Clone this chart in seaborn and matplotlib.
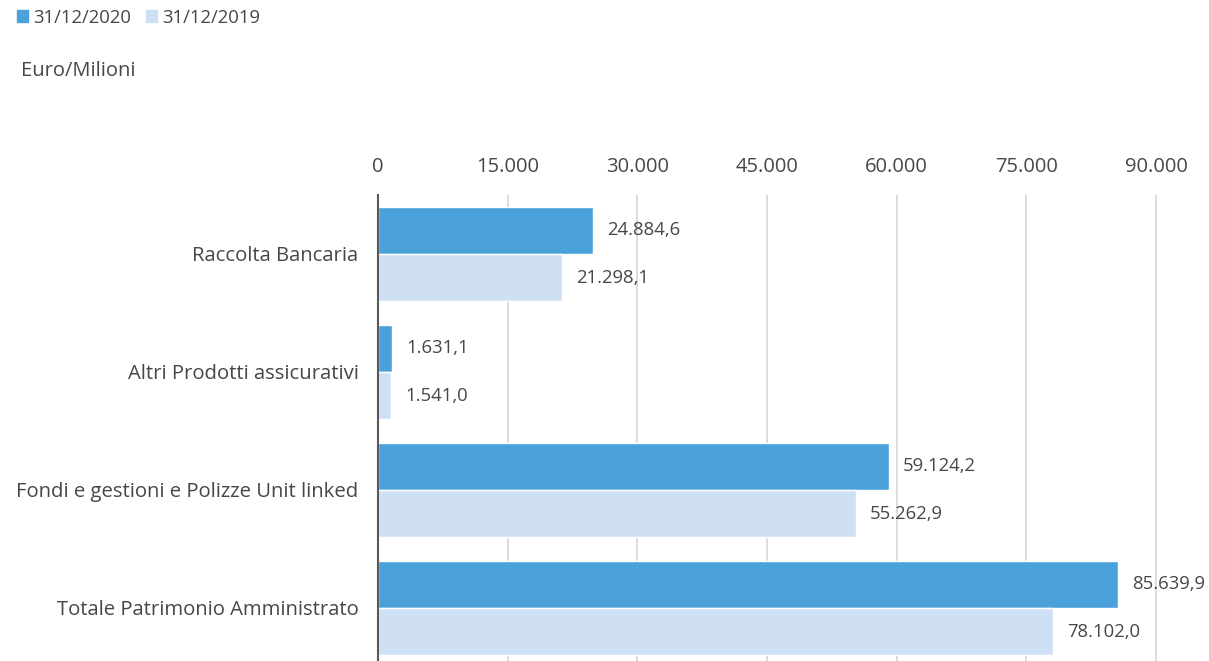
import matplotlib
matplotlib.use('Agg')
import matplotlib.pyplot as plt
import pandas as pd
import seaborn as sns

# Data (Euro/Milioni)
categories = ['Raccolta Bancaria', 'Altri Prodotti assicurativi',
              'Fondi e gestioni e Polizze Unit linked', 'Totale Patrimonio Amministrato']
values_2020 = [24884.6, 1631.1, 59124.2, 85639.9]
values_2019 = [21298.1, 1541.0, 55262.9, 78102.0]
series = ['31/12/2020', '31/12/2019']
labels_2020 = ['24.884,6', '1.631,1', '59.124,2', '85.639,9']
labels_2019 = ['21.298,1', '1.541,0', '55.262,9', '78.102,0']
x_ticks = [0, 15000, 30000, 45000, 60000, 75000, 90000]
x_ticklabels = ['0', '15.000', '30.000', '45.000', '60.000', '75.000', '90.000']

df = pd.DataFrame({
    'categoria': categories * 2,
    'valore': values_2020 + values_2019,
    'serie': [series[0]] * 4 + [series[1]] * 4,
})

sns.set_style('white')
plt.rcParams['font.family'] = ['Open Sans', 'DejaVu Sans']
text_color = '#474747'
palette = ['#4BA1DA', '#CFE0F4']

fig = plt.figure(figsize=(12.09, 6.61), dpi=100)
ax = fig.add_axes([0.3127, 0.0, 0.9597 - 0.3127, 0.705])

sns.barplot(data=df, y='categoria', x='valore', hue='serie', hue_order=series,
            order=categories, palette=palette, width=0.8, saturation=1,
            orient='h', ax=ax, legend=False)

ax.set_xlim(0, 90500)
ax.set_ylim(3.45, -0.5)
ax.set_xticks(x_ticks)
ax.set_xticklabels(x_ticklabels, fontsize=14.5, color=text_color)
ax.xaxis.tick_top()
ax.tick_params(axis='x', length=0, pad=13)
ax.tick_params(axis='y', length=0, pad=14, labelsize=14.6, labelcolor=text_color)
ax.set_xlabel('')
ax.set_ylabel('')
ax.grid(axis='x', color='#D9D9D9', linewidth=1.3)
ax.set_axisbelow(True)
for s in ['top', 'right', 'bottom']:
    ax.spines[s].set_visible(False)
ax.spines['left'].set_color('#595959')
ax.spines['left'].set_linewidth(1.5)

# data labels
for cont, labs in zip(ax.containers, [labels_2020, labels_2019]):
    for bar, lab in zip(cont, labs):
        ax.annotate(lab, (bar.get_width(), bar.get_y() + bar.get_height() / 2),
                    xytext=(10, 0), textcoords='offset points', va='center',
                    ha='left', fontsize=13.3, color=text_color)

# legend
handles = [plt.Rectangle((0, 0), 1, 1, color=c) for c in palette]
fig.legend(handles, series, loc='upper left', bbox_to_anchor=(0.0, 1.012), ncol=2,
           frameon=False, handlelength=0.6, handleheight=0.6, handletextpad=0.3,
           columnspacing=0.8, fontsize=13.3, labelcolor=text_color)

fig.text(0.017, 0.893, 'Euro/Milioni', fontsize=14.5, color=text_color, va='center')

fig.savefig('out.png', dpi=100)
